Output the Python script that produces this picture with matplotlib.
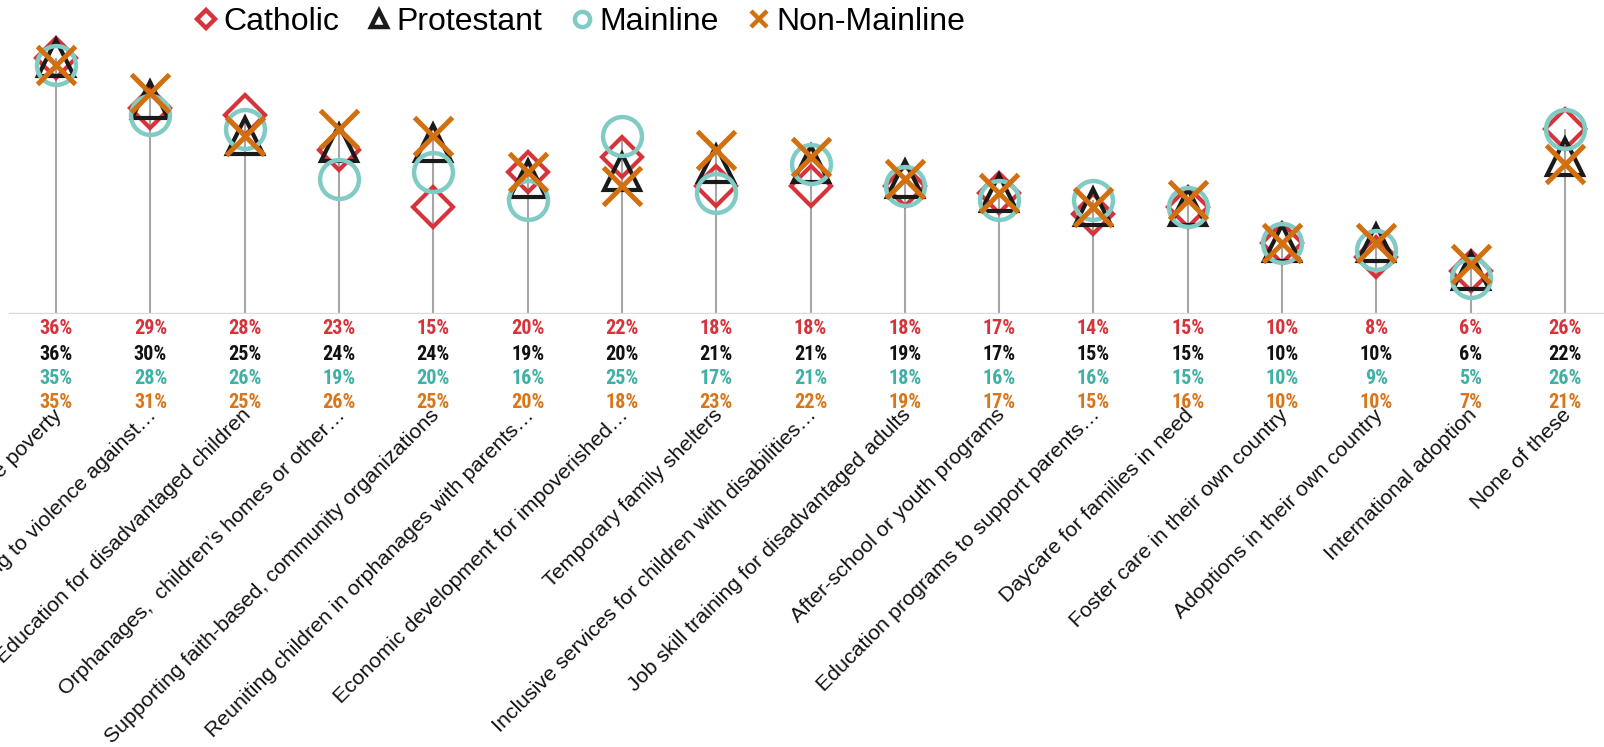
import matplotlib
matplotlib.use("Agg")
import matplotlib.pyplot as plt
from matplotlib import font_manager
from matplotlib.lines import Line2D
from matplotlib.transforms import blended_transform_factory

# categories (first two are clipped at the left edge in the original)
categories = [
    "Alleviating extreme poverty",
    "Responding to violence against\u2026",
    "Education for disadvantaged children",
    "Orphanages,  children\u2019s homes or other\u2026",
    "Supporting faith-based, community organizations",
    "Reuniting children in orphanages with parents\u2026",
    "Economic development for impoverished\u2026",
    "Temporary family shelters",
    "Inclusive services for children with disabilities\u2026",
    "Job skill training for disadvantaged adults",
    "After-school or youth programs",
    "Education programs to support parents\u2026",
    "Daycare for families in need",
    "Foster care in their own country",
    "Adoptions in their own country",
    "International adoption",
    "None of these",
]

catholic = [36, 29, 28, 23, 15, 20, 22, 18, 18, 18, 17, 14, 15, 10, 8, 6, 26]
protestant = [36, 30, 25, 24, 24, 19, 20, 21, 21, 19, 17, 15, 15, 10, 10, 6, 22]
mainline = [35, 28, 26, 19, 20, 16, 25, 17, 21, 18, 16, 16, 15, 10, 9, 5, 26]
non_mainline = [35, 31, 25, 26, 25, 20, 18, 23, 22, 19, 17, 15, 16, 10, 10, 7, 21]

series_names = ["Catholic", "Protestant", "Mainline", "Non-Mainline"]
series_values = [catholic, protestant, mainline, non_mainline]

# marker styles per series: (marker, size, edge width, marker colour, text colour)
styles = [
    ("D", 20, 3.0, "#d7333b", "#d7333b"),
    ("^", 26, 3.0, "#1a1a1a", "#111111"),
    ("o", 28, 3.2, "#80ccc5", "#3fb0a5"),
    ("x", 28, 3.6, "#d2700f", "#d9761a"),
]

installed = {f.name for f in font_manager.fontManager.ttflist}
narrow_font = next((f for f in ["Liberation Sans Narrow", "DejaVu Sans Condensed", "Roboto Condensed"]
                    if f in installed), "Lato")
label_font = "Liberation Sans" if "Liberation Sans" in installed else "DejaVu Sans"

W, H = 1604, 747
fig = plt.figure(figsize=(W / 100, H / 100), dpi=100)
base_px = 314          # baseline, pixels from top
left_px = 9
step_px = 94.3         # category spacing
pct_px = 7.12          # pixels per percentage point

ax = fig.add_axes([left_px / W, 1 - base_px / H, (W - left_px) / W, base_px / H])
ax.set_xlim(-0.5, -0.5 + (W - left_px) / step_px)
ax.set_ylim(0, base_px / pct_px)
ax.axis("off")

x = list(range(len(categories)))

# stems from zero up to the highest value
tops = [max(v) for v in zip(*series_values)]
ax.vlines(x, 0, tops, color="#a6a6a6", lw=1.5, zorder=1)
ax.axhline(0, color="#d9d9d9", lw=2.4, zorder=1)

for vals, (mk, ms, mew, col, _) in zip(series_values, styles):
    ax.plot(x, vals, ls="none", marker=mk, ms=ms, mfc="none", mec=col, mew=mew,
            clip_on=False, zorder=3)

# data table under the axis
tr = blended_transform_factory(ax.transData, fig.transFigure)
row_px = [329, 354, 378, 402]
for vals, (_, _, _, _, tcol), ypx in zip(series_values, styles, row_px):
    for i, v in enumerate(vals):
        ax.text(i, 1 - ypx / H, f"{v}%", transform=tr, ha="center", va="center",
                fontsize=14.5, fontweight="bold", color=tcol, family=narrow_font)

# rotated category labels
for i, lab in enumerate(categories):
    ax.text(i + 7 / step_px, 1 - 416 / H, lab, transform=tr, rotation=45,
            rotation_mode="anchor", ha="right", va="baseline",
            fontsize=15.4, color="#111111", family=label_font)

# legend
handles = []
for name, (mk, ms, mew, col, _) in zip(series_names, styles):
    lsize = {"D": 9, "^": 12, "o": 11, "x": 12}[mk]
    handles.append(Line2D([], [], ls="none", marker=mk, ms=lsize, mfc="white" if mk != "x" else "none",
                          mec=col, mew=3.2))
fig.legend(handles, series_names, loc="center", bbox_to_anchor=(580 / W, 1 - 22 / H),
           ncol=4, frameon=False, handlelength=0.7, handletextpad=0.2, columnspacing=0.9,
           prop={"family": label_font, "size": 23})

fig.savefig("out.png", dpi=100)
